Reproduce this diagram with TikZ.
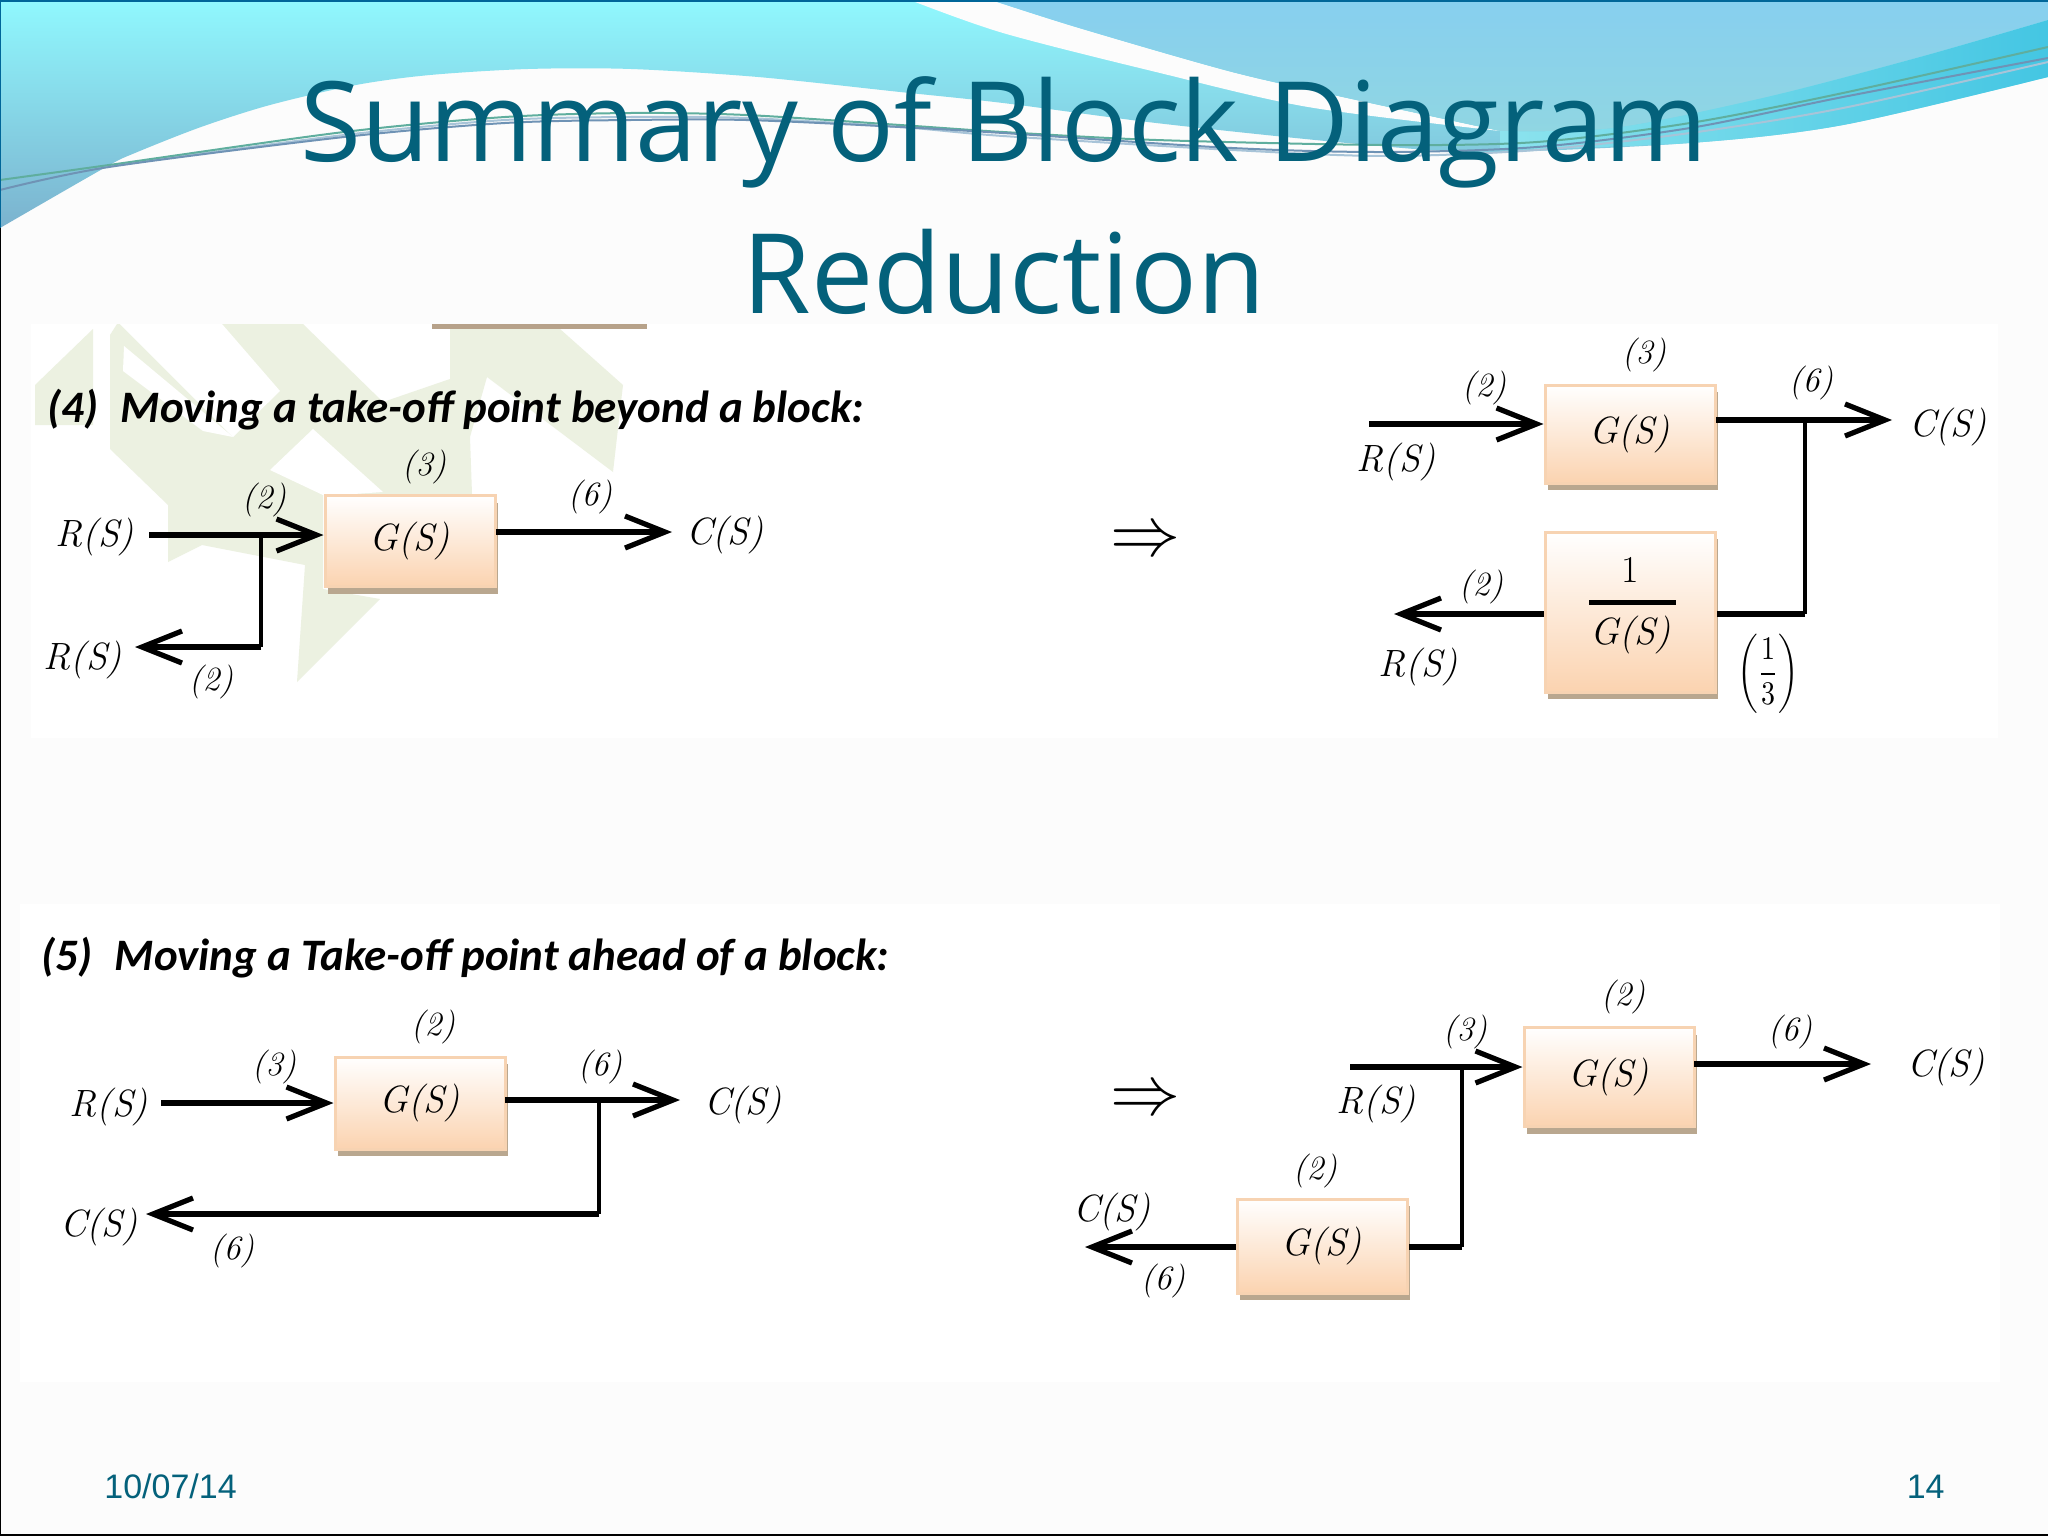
\documentclass[tikz,border=0pt]{standalone}
\usepackage{fontspec}
\usetikzlibrary{arrows.meta,shadows}
\newfontfamily\titlefont{Open Sans}
\newfontfamily\headfont{Carlito}
\newfontfamily\footfont{Liberation Sans}
\definecolor{pagebg}{HTML}{FCFCFC}
\definecolor{titleblue}{HTML}{04617B}
\definecolor{cyantop}{HTML}{90F8FE}
\definecolor{cyanlow}{HTML}{7BB2CE}
\definecolor{skyblue}{HTML}{87CFEF}
\definecolor{skylow}{HTML}{90D6E2}
\definecolor{stripa}{HTML}{8CE3EE}
\definecolor{stripb}{HTML}{44C6E3}
\definecolor{markgreen}{HTML}{ECF1E1}
\definecolor{barbrown}{HTML}{B7A28A}
\definecolor{boxfill}{HTML}{FBD3B0}
\definecolor{boxedge}{HTML}{F7D3B2}
\definecolor{boxshade}{HTML}{B9A78F}
\definecolor{wavegreen}{HTML}{5FAE9E}
\definecolor{waveblue}{HTML}{6F93B5}
\definecolor{wavepale}{HTML}{A8C4D8}
\tikzset{
  block/.style = {draw = boxedge, line width = 1.5pt, top color = white, bottom color = boxfill,
    minimum width = 85pt, inner sep = 0pt, text = black, font = \itshape\fontsize{19}{22}\selectfont,
    drop shadow = {shadow xshift = 1.5pt, shadow yshift = -3.5pt, fill = boxshade, opacity = 1}},
  sig/.style = {line width = 2.8pt, -{Straight Barb[length = 20pt, width = 16pt, line width = 2.6pt]}},
  line/.style = {line width = 2.8pt},
  tap/.style = {line width = 2.2pt},
  lbl/.style = {font = \itshape\fontsize{19}{22}\selectfont, inner sep = 0pt},
  num/.style = {font = \itshape\fontsize{17}{20}\selectfont, inner sep = 0pt},
  head/.style = {anchor = base west, font = \headfont\bfseries\itshape\fontsize{22.5}{26}\selectfont, inner sep = 0pt},
  foot/.style = {font = \footfont\fontsize{17}{20}\selectfont, text = titleblue, inner sep = 0pt},
  wave/.style = {line width = 1pt}
}
\begin{document}
\begin{tikzpicture}[x = 0.5pt, y = -0.5pt]
\useasboundingbox (0, 0) rectangle (2048, 1536);
\fill[pagebg] (0, 0) rectangle (2048, 1536);
% swooshes at the top
\shade[top color = cyantop, bottom color = cyanlow] (0, 0) -- (2048, 0) -- (2048, 77)
  -- plot[smooth] coordinates {(2048, 77) (1843, 125) (1690, 143) (1484, 152) (1347, 143) (1156, 123)
  (1003, 103) (900, 92) (758, 77) (631, 69) (528, 69) (430, 75) (356, 85) (270, 105) (201, 127)
  (135, 153) (106, 167) (0, 228)} -- cycle;
\fill[pagebg] plot[smooth] coordinates {(910, 0) (1003, 33) (1156, 72) (1308, 107) (1500, 131)}
  -- plot[smooth] coordinates {(1500, 131) (1347, 98) (1232, 72) (1079, 28) (991, 0)} -- cycle;
\shade[top color = skyblue, bottom color = skylow] (991, 0) -- (2048, 0) -- (2048, 20)
  -- plot[smooth] coordinates {(2048, 20) (1920, 57) (1767, 97) (1614, 128) (1500, 131)}
  -- plot[smooth] coordinates {(1500, 131) (1347, 98) (1232, 72) (1079, 28) (991, 0)} -- cycle;
\shade[left color = stripa, right color = stripb]
  plot[smooth] coordinates {(2048, 20) (1920, 57) (1767, 97) (1614, 128) (1500, 131)}
  -- plot[smooth] coordinates {(1500, 150) (1690, 143) (1843, 125) (2048, 77)} -- cycle;
\draw[wave, color = wavepale] plot[smooth] coordinates {(109, 166) (344, 135) (505, 120)
  (631, 117) (746, 118) (900, 127) (1003, 136) (1232, 150) (1385, 156) (1537, 150) (1690, 133) (1843, 108) (2048, 62)};
\draw[wave, color = wavegreen] plot[smooth] coordinates {(0, 180) (109, 165) (344, 132) (505, 117)
  (631, 113) (746, 115) (900, 125) (1003, 132) (1156, 140) (1385, 145) (1537, 142) (1690, 123) (1843, 93) (2048, 47)};
\draw[wave, color = waveblue] plot[smooth] coordinates {(0, 190) (109, 167) (344, 137) (505, 123)
  (631, 120) (746, 120) (900, 127) (1003, 133) (1232, 148) (1385, 152) (1537, 147) (1690, 128) (1843, 97) (2048, 58)};
% the two pasted pictures
\fill[white] (31, 324) rectangle (1998, 738);
\fill[white] (20, 904) rectangle (2000, 1382);
% pale mark behind the first picture
\fill[markgreen] (93, 329) -- (35, 385) -- (35, 425) -- (93, 425) -- cycle;
\fill[markgreen] (110, 335) -- (117, 324) -- (303, 324) -- (383, 402) -- (450, 379) -- (450, 329) -- (560, 329)
  -- (623, 385) -- (613, 472) -- (487, 377) -- (470, 437) -- (472, 494) -- (323, 495) -- (323, 589) -- (380, 599)
  -- (297, 682) -- (305, 565) -- (202, 545) -- (168, 562) -- (168, 505) -- (110, 449) -- cycle;
\fill[white] (120, 324) -- (222, 324) -- (280, 391) -- (233, 437) -- cycle;
\fill[white] (124, 346) -- (123, 371) -- (203, 431) -- (233, 437) -- cycle;
\fill[white] (313, 429) -- (383, 492) -- (325, 496) -- (270, 470) -- cycle;
\fill[barbrown] (432, 324) rectangle (647, 329);
% frame
\draw[line width = 1pt, color = teal!80!blue] (0, 228) -- (0, 1) -- (2048, 1);
\draw[line width = 1pt] (0, 228) -- (0, 1535) -- (2048, 1535);
% title
\node (title) at (1004, 196) [align = center, inner sep = 0pt, text = titleblue,
  font = \titlefont\fontsize{55.5}{76}\selectfont] {Summary of Block Diagram\\Reduction};

% (4) left
\node[head] (headfour) at (47, 422) {(4)\enspace Moving a take-off point beyond a block:};
\node[block, minimum height = 45.5pt] (gfour) at (410, 541) {G(S)};
\node[lbl] (rfour) at (95, 537) {R(S)};
\node[lbl] (rfourb) at (83, 660) {R(S)};
\node[lbl] (cfour) at (725, 535) {C(S)};
\node[num] (nfoura) at (264, 500) {(2)};
\node[num] (nfourb) at (424, 467) {(3)};
\node[num] (nfourc) at (590, 497) {(6)};
\node[num] (nfourd) at (211, 682) {(2)};
\coordinate (sfour) at (149, 535);
\coordinate (jfour) at (261, 535);
\coordinate (kfour) at (261, 647);
\coordinate (tfour) at (135, 647);
\coordinate (ofour) at (496, 532);
\coordinate (efour) at (672, 532);
\draw[sig] (sfour) -- (sfour -| gfour.west);
\draw[tap] (jfour) -- (kfour);
\draw[sig] (kfour) -- (tfour);
\draw[sig] (ofour) -- (efour);
\node (impa) at (1145, 543) {\scalebox{3.5}{$\Rightarrow$}};

% (4) right
\node[block, minimum height = 49pt] (gfourr) at (1630, 434) {G(S)};
\node[block, minimum height = 80pt] (hfourr) at (1630, 612) {};
\node[font = \fontsize{19}{22}\selectfont, inner sep = 0pt] (onefour) at (1630, 570) {1};
\node[lbl] (dfour) at (1631, 635) {G(S)};
\draw[line width = 2.5pt] (1589, 602) -- (1676, 602);
\node[lbl] (rfourr) at (1396, 462) {R(S)};
\node[lbl] (rfourc) at (1418, 667) {R(S)};
\node[lbl] (cfourr) at (1948, 427) {C(S)};
\node[num] (nfoure) at (1484, 388) {(2)};
\node[num] (nfourf) at (1644, 355) {(3)};
\node[num] (nfourg) at (1811, 383) {(6)};
\node[num] (nfourh) at (1481, 587) {(2)};
\node[inner sep = 0pt] (thirdfour) at (1768, 674) {\scalebox{1.4}[1.65]{$\displaystyle\left(\frac{1}{3}\right)$}};
\coordinate (sfourr) at (1369, 424);
\coordinate (ofourr) at (1716, 420);
\coordinate (efourr) at (1892, 420);
\coordinate (jfourr) at (1805, 420);
\coordinate (kfourr) at (1805, 614);
\coordinate (tfourr) at (1394, 614);
\draw[sig] (sfourr) -- (sfourr -| gfourr.west);
\draw[sig] (ofourr) -- (efourr);
\draw[tap] (jfourr) -- (kfourr);
\draw[line] (kfourr) -- (kfourr -| hfourr.east);
\draw[sig] (kfourr -| hfourr.west) -- (tfourr);

% (5) left
\node[head] (headfive) at (41, 970) {(5)\enspace Moving a Take-off point ahead of a block:};
\node[block, minimum height = 46pt] (gfive) at (420, 1103) {G(S)};
\node[lbl] (rfive) at (109, 1107) {R(S)};
\node[lbl] (cfive) at (743, 1105) {C(S)};
\node[lbl] (cfiveb) at (99, 1227) {C(S)};
\node[num] (nfivea) at (274, 1067) {(3)};
\node[num] (nfiveb) at (433, 1027) {(2)};
\node[num] (nfivec) at (600, 1067) {(6)};
\node[num] (nfived) at (232, 1251) {(6)};
\coordinate (sfive) at (161, 1103);
\coordinate (ofive) at (505, 1100);
\coordinate (efive) at (680, 1100);
\coordinate (jfive) at (599, 1100);
\coordinate (kfive) at (599, 1214);
\coordinate (tfive) at (146, 1214);
\draw[sig] (sfive) -- (sfive -| gfive.west);
\draw[sig] (ofive) -- (efive);
\draw[tap] (jfive) -- (kfive);
\draw[sig] (kfive) -- (tfive);
\node (impb) at (1145, 1102) {\scalebox{3.5}{$\Rightarrow$}};

% (5) right
\node[block, minimum height = 49.5pt] (gfiver) at (1609, 1077) {G(S)};
\node[block, minimum height = 47pt] (hfiver) at (1322, 1246) {G(S)};
\node[lbl] (rfiver) at (1376, 1104) {R(S)};
\node[lbl] (cfiver) at (1946, 1067) {C(S)};
\node[lbl] (cfivec) at (1112, 1212) {C(S)};
\node[num] (nfivee) at (1465, 1032) {(3)};
\node[num] (nfivef) at (1623, 997) {(2)};
\node[num] (nfiveg) at (1790, 1032) {(6)};
\node[num] (nfiveh) at (1315, 1171) {(2)};
\node[num] (nfivei) at (1163, 1281) {(6)};
\coordinate (sfiver) at (1350, 1067);
\coordinate (ofiver) at (1694, 1064);
\coordinate (efiver) at (1871, 1064);
\coordinate (jfiver) at (1462, 1067);
\coordinate (kfiver) at (1462, 1247);
\coordinate (tfiver) at (1085, 1247);
\draw[sig] (sfiver) -- (sfiver -| gfiver.west);
\draw[sig] (ofiver) -- (efiver);
\draw[tap] (jfiver) -- (kfiver);
\draw[line] (kfiver) -- (kfiver -| hfiver.east);
\draw[sig] (kfiver -| hfiver.west) -- (tfiver);

% footer
\node[foot, anchor = base west] (datenode) at (104, 1498) {10/07/14};
\node[foot, anchor = base east] (pagenode) at (1945, 1498) {14};
\end{tikzpicture}
\end{document}
